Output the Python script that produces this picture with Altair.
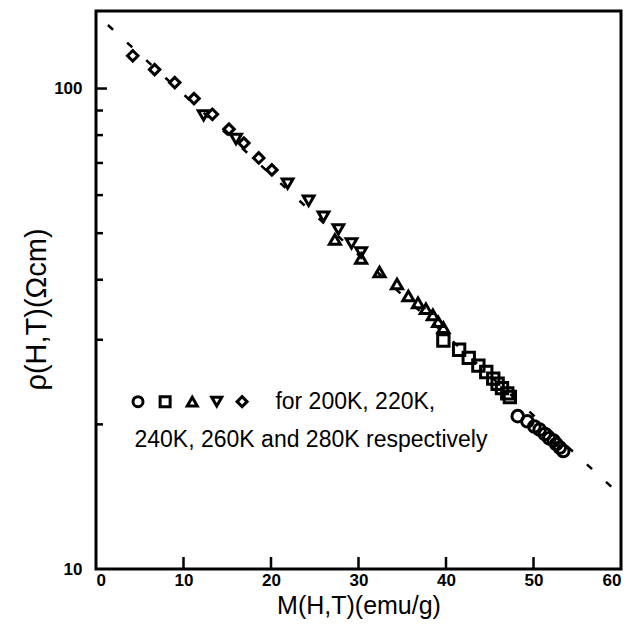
import altair as alt
import pandas as pd

# ---- data ----
series_names = ["200K", "220K", "240K", "260K", "280K"]
series_shapes = ["circle", "square", "triangle-up", "triangle-down", "diamond"]

m_200 = [48.2, 49.3, 50.1, 50.7, 51.3, 51.8, 52.3, 52.6, 53.0, 53.4]
rho_200 = [20.8, 20.3, 19.8, 19.5, 19.1, 18.7, 18.5, 18.2, 17.9, 17.6]

m_220 = [39.7, 41.5, 42.6, 43.7, 44.6, 45.4, 45.9, 46.4, 47.0, 47.3]
rho_220 = [29.9, 28.6, 27.5, 26.5, 25.7, 24.9, 24.3, 23.8, 23.2, 22.8]

m_240 = [27.3, 30.3, 32.4, 34.4, 35.7, 36.8, 37.7, 38.5, 39.1, 39.7]
rho_240 = [48.5, 44.3, 41.5, 39.2, 37.0, 35.8, 34.8, 33.8, 32.7, 31.8]

m_260 = [12.3, 16.0, 21.9, 24.3, 26.0, 27.7, 29.2, 30.3]
rho_260 = [87.9, 78.5, 63.4, 58.4, 54.1, 50.9, 47.6, 45.6]

m_280 = [4.2, 6.7, 9.0, 11.2, 13.3, 15.2, 16.9, 18.6, 20.1]
rho_280 = [117.0, 109.5, 102.9, 95.3, 88.4, 82.3, 77.0, 71.7, 67.7]

fit_m = [1.36, 59.3]
fit_rho = [135.6, 14.6]

x_ticks = [0, 10, 20, 30, 40, 50, 60]
x_inner_ticks = [10, 20, 30, 40, 50]
y_labels = [10, 100]
y_major_ticks = [100]
y_minor_ticks = [20, 30, 40, 50, 60, 70, 80, 90]

legend_m = [4.8, 7.9, 11.0, 13.8, 16.7]
legend_rho = [22.3, 22.3, 22.3, 22.3, 22.3]
note_m = [20.5, 4.4]
note_rho = [22.3, 18.6]
note_text = ["for 200K, 220K,", "240K, 260K and 280K respectively"]

# ---- tables ----
rows = []
for name, ms, rs in [("200K", m_200, rho_200), ("220K", m_220, rho_220),
                     ("240K", m_240, rho_240), ("260K", m_260, rho_260),
                     ("280K", m_280, rho_280)]:
    for m, r in zip(ms, rs):
        rows.append({"M": m, "rho": r, "T": name})
pts = pd.DataFrame(rows)
fit = pd.DataFrame({"M": fit_m, "rho": fit_rho})
leg = pd.DataFrame({"M": legend_m, "rho": legend_rho, "T": series_names})
notes = pd.DataFrame({"M": note_m, "rho": note_rho, "txt": note_text})

W, H = 525, 558
FONT = "Liberation Sans"

xscale = alt.Scale(domain=[0, 60], nice=False, zero=False)
yscale = alt.Scale(type="log", domain=[10, 145], nice=False)
shape_scale = alt.Scale(domain=series_names, range=series_shapes)
size_scale = alt.Scale(domain=series_names, range=[135, 110, 145, 145, 175])

xaxis = alt.Axis(values=x_ticks, ticks=False, domain=False, grid=False,
                 labelFont=FONT, labelFontWeight="bold", labelFontSize=17,
                 labelColor="black", labelPadding=3, title="M(H,T)(emu/g)",
                 titleFont=FONT, titleFontWeight="normal", titleFontSize=25,
                 titleColor="black", titleBaseline="middle", titleY=36)
yaxis = alt.Axis(values=y_labels, format="d", ticks=False, domain=False, grid=False,
                 labelFont=FONT, labelFontWeight="bold", labelFontSize=17,
                 labelColor="black", labelPadding=14, title="ρ(H,T)(Ωcm)",
                 titleFont=FONT, titleFontWeight="normal", titleFontSize=29,
                 titleColor="black", titleBaseline="middle", titleX=-60, titleY=298)

line = alt.Chart(fit).mark_line(color="black", strokeWidth=2.5, strokeDash=[7, 19]).encode(
    x=alt.X("M:Q", scale=xscale, axis=xaxis),
    y=alt.Y("rho:Q", scale=yscale, axis=yaxis),
)

points = alt.Chart(pts).mark_point(filled=False, color="black", strokeWidth=3, opacity=1).encode(
    x=alt.X("M:Q", scale=xscale),
    y=alt.Y("rho:Q", scale=yscale),
    shape=alt.Shape("T:N", scale=shape_scale, legend=None),
    size=alt.Size("T:N", scale=size_scale, legend=None),
)

ymaj = alt.Chart(pd.DataFrame({"v": y_major_ticks})).mark_rule(color="black", strokeWidth=2.5).encode(
    y=alt.Y("v:Q", scale=yscale), x=alt.value(0), x2=alt.value(11))
ymin = alt.Chart(pd.DataFrame({"v": y_minor_ticks})).mark_rule(color="black", strokeWidth=2.5).encode(
    y=alt.Y("v:Q", scale=yscale), x=alt.value(0), x2=alt.value(7))
xt = alt.Chart(pd.DataFrame({"v": x_inner_ticks})).mark_rule(color="black", strokeWidth=2.5).encode(
    x=alt.X("v:Q", scale=xscale), y=alt.value(H), y2=alt.value(H - 12))

legpts = alt.Chart(leg).mark_point(filled=False, color="black", strokeWidth=3, opacity=1).encode(
    x=alt.X("M:Q", scale=xscale),
    y=alt.Y("rho:Q", scale=yscale),
    shape=alt.Shape("T:N", scale=shape_scale, legend=None),
    size=alt.value(100),
)

legtxt = alt.Chart(notes).mark_text(align="left", baseline="middle", font=FONT,
                                    fontSize=23, color="black").encode(
    x=alt.X("M:Q", scale=xscale),
    y=alt.Y("rho:Q", scale=yscale),
    text="txt:N",
)

chart = alt.layer(line, points, ymaj, ymin, xt, legpts, legtxt).properties(
    width=W, height=H,
    autosize=alt.AutoSizeParams(type="none"),
    padding={"left": 88, "top": 3, "right": 10, "bottom": 51},
    background="white",
).configure_view(stroke="black", strokeWidth=3)

chart.save("out.html", embed_options={"renderer": "svg", "actions": False})
